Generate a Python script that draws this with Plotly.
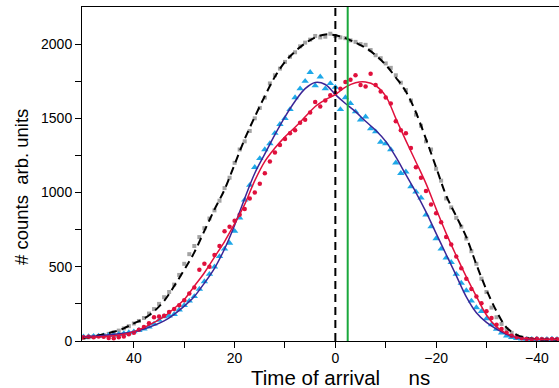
import plotly.graph_objects as go

# ---- data (time of arrival in ns, counts in arb. units) ----
x_data = list(range(50, -45, -1))

gray_counts = [20, 25, 30, 34, 40, 48, 58, 70, 85, 100,
               118, 135, 155, 185, 215, 250, 295, 330, 380, 445,
               520, 585, 640, 700, 760, 825, 880, 945, 1030, 1100,
               1200, 1290, 1345, 1415, 1500, 1570, 1640, 1735, 1790, 1835,
               1880, 1915, 1945, 1985, 2010, 2030, 2055, 2045, 2050, 2070,
               2055, 2045, 2040, 2025, 2015, 2000, 1995, 1960, 1925, 1905,
               1870, 1840, 1790, 1740, 1690, 1620, 1525, 1450, 1345, 1290,
               1160, 1080, 960, 900, 830, 770, 690, 605, 520, 420,
               330, 225, 160, 115, 80, 55, 35, 22, 15, 12,
               10, 12, 10, 9, 10]

cyan_counts = [28, 30, 32, 34, 36, 38, 40, 45, 50, 57,
               63, 72, 82, 95, 115, 140, 165, 170, 180, 210,
               240, 270, 300, 350, 400, 450, 500, 570, 620, 660,
               740, 830, 950, 1050, 1170, 1230, 1290, 1330, 1400, 1460,
               1500, 1560, 1640, 1700, 1750, 1810, 1720, 1780, 1700, 1735,
               1710, 1560, 1640, 1600, 1545, 1490, 1510, 1430, 1410, 1340,
               1330, 1290, 1200, 1130, 1140, 1040, 1005, 965, 850, 770,
               690, 620, 560, 530, 450, 390, 340, 270, 225, 200,
               150, 110, 80, 55, 35, 25, 18, 15, 12, 12,
               14, 10, 12, 14, 12]

red_counts = [25, 28, 25, 30, 28, 20, 18, 25, 30, 45,
              55, 75, 95, 120, 160, 165, 170, 195, 215, 240,
              275, 320, 360, 480, 520, 500, 580, 640, 740, 770,
              810, 850, 890, 960, 1000, 1060, 1130, 1210, 1270, 1320,
              1360, 1400, 1420, 1470, 1490, 1540, 1610, 1580, 1620, 1655,
              1670, 1700, 1745, 1760, 1790, 1725, 1715, 1800, 1725, 1680,
              1640, 1600, 1480, 1420, 1400, 1300, 1170, 1100, 1010, 920,
              860, 800, 700, 650, 570, 490, 420, 350, 300, 255,
              200, 155, 110, 80, 55, 35, 25, 18, 14, 12,
              15, 12, 10, 14, 12]

x_fit = list(range(50, -45, -2))

gray_fit = [22, 30, 45, 62, 85, 119, 150, 200, 270, 370,
            480, 597, 742, 886, 1020, 1190, 1360, 1510, 1650, 1780,
            1880, 1950, 2005, 2045, 2065, 2060, 2040, 2010, 1975, 1925,
            1860, 1775, 1680, 1540, 1360, 1170, 980, 840, 700, 515,
            345, 200, 90, 42, 20, 12, 10, 10]

cyan_fit = [28, 32, 38, 45, 52, 63, 80, 105, 135, 180,
            235, 300, 390, 490, 620, 780, 960, 1130, 1260, 1390,
            1510, 1615, 1700, 1742, 1728, 1660, 1600, 1545, 1480, 1420,
            1345, 1240, 1120, 1000, 870, 725, 583, 440, 297, 190,
            125, 80, 45, 25, 13, 10, 10, 10]

red_fit = [25, 27, 30, 35, 45, 63, 90, 125, 165, 220,
           280, 370, 460, 565, 670, 790, 920, 1080, 1210, 1300,
           1375, 1440, 1510, 1580, 1625, 1660, 1710, 1740, 1745, 1720,
           1650, 1500, 1350, 1206, 1060, 890, 725, 575, 432, 300,
           175, 95, 50, 25, 15, 12, 12, 12]

x_ticks = [40, 20, 0, -20, -40]
y_ticks = [0, 500, 1000, 1500, 2000]
green_line_x = -2.45

GRAY = "#a3a3a3"
CYAN = "#1ea8e8"
RED = "#e0103c"
NAVY = "#3b2596"
GREEN = "#1aa83c"

fig = go.Figure()

fig.add_trace(go.Scatter(x=x_data, y=gray_counts, mode="markers",
                         marker=dict(symbol="square", size=4, color=GRAY),
                         showlegend=False))
fig.add_trace(go.Scatter(x=x_data, y=cyan_counts, mode="markers",
                         marker=dict(symbol="triangle-up", size=6.5, color=CYAN),
                         showlegend=False))
fig.add_trace(go.Scatter(x=x_data, y=red_counts, mode="markers",
                         marker=dict(symbol="circle", size=4.5, color=RED),
                         showlegend=False))
fig.add_trace(go.Scatter(x=x_fit, y=gray_fit, mode="lines", line_shape="spline",
                         line=dict(color="black", width=2, dash="8px,5px"),
                         showlegend=False))
fig.add_trace(go.Scatter(x=x_fit, y=cyan_fit, mode="lines", line_shape="spline",
                         line=dict(color=NAVY, width=1.5), showlegend=False))
fig.add_trace(go.Scatter(x=x_fit, y=red_fit, mode="lines", line_shape="spline",
                         line=dict(color=RED, width=1.5), showlegend=False))

fig.add_shape(type="line", x0=0, x1=0, y0=0, y1=1, xref="x", yref="y domain",
              line=dict(color="black", width=2, dash="8px,5px"))
fig.add_shape(type="line", x0=green_line_x, x1=green_line_x, y0=0, y1=1,
              xref="x", yref="y domain", line=dict(color=GREEN, width=2))

axis_font = dict(family="Liberation Sans, Arial, sans-serif", size=14, color="black")

fig.update_xaxes(range=[50.3, -44.4], tickvals=x_ticks, ticks="outside",
                 ticklen=6, tickwidth=1, tickcolor="black", automargin=False,
                 ticklabelstandoff=-2,
                 showline=True, linecolor="black", linewidth=1, mirror=True,
                 showgrid=False, zeroline=False, tickfont=axis_font,
                 minor=dict(tickvals=[30, 10, -10, -30], ticks="outside",
                            ticklen=6, tickcolor="black"))
fig.update_yaxes(range=[0, 2250], tickvals=y_ticks, ticks="outside",
                 ticklen=6, tickwidth=1, tickcolor="black", automargin=False,
                 showline=True, linecolor="black", linewidth=1,
                 showgrid=False, zeroline=False, tickfont=axis_font,
                 minor=dict(tickvals=[250, 750, 1250, 1750], ticks="outside",
                            ticklen=6, tickcolor="black"))

fig.add_annotation(text="Time of arrival     ns", xref="paper", yref="paper",
                   x=(340 - 82) / 477, y=0, yshift=-36, showarrow=False,
                   yanchor="middle", xanchor="center",
                   font=dict(family="Liberation Sans, Arial, sans-serif", size=20.5, color="black"))
fig.add_annotation(text="# counts  arb. units", xref="paper", yref="paper",
                   x=0, xshift=-61, y=(341 - 187) / 334, textangle=-90,
                   showarrow=False, xanchor="center", yanchor="middle",
                   font=dict(family="Liberation Sans, Arial, sans-serif", size=18.5, color="black"))

fig.update_layout(width=559, height=388,
                  margin=dict(l=82, r=0, t=7, b=47),
                  plot_bgcolor="white", paper_bgcolor="white")

fig.write_html("out.html", config={"displayModeBar": False},
               post_script="document.body.style.margin='0';document.body.style.overflow='hidden';")
